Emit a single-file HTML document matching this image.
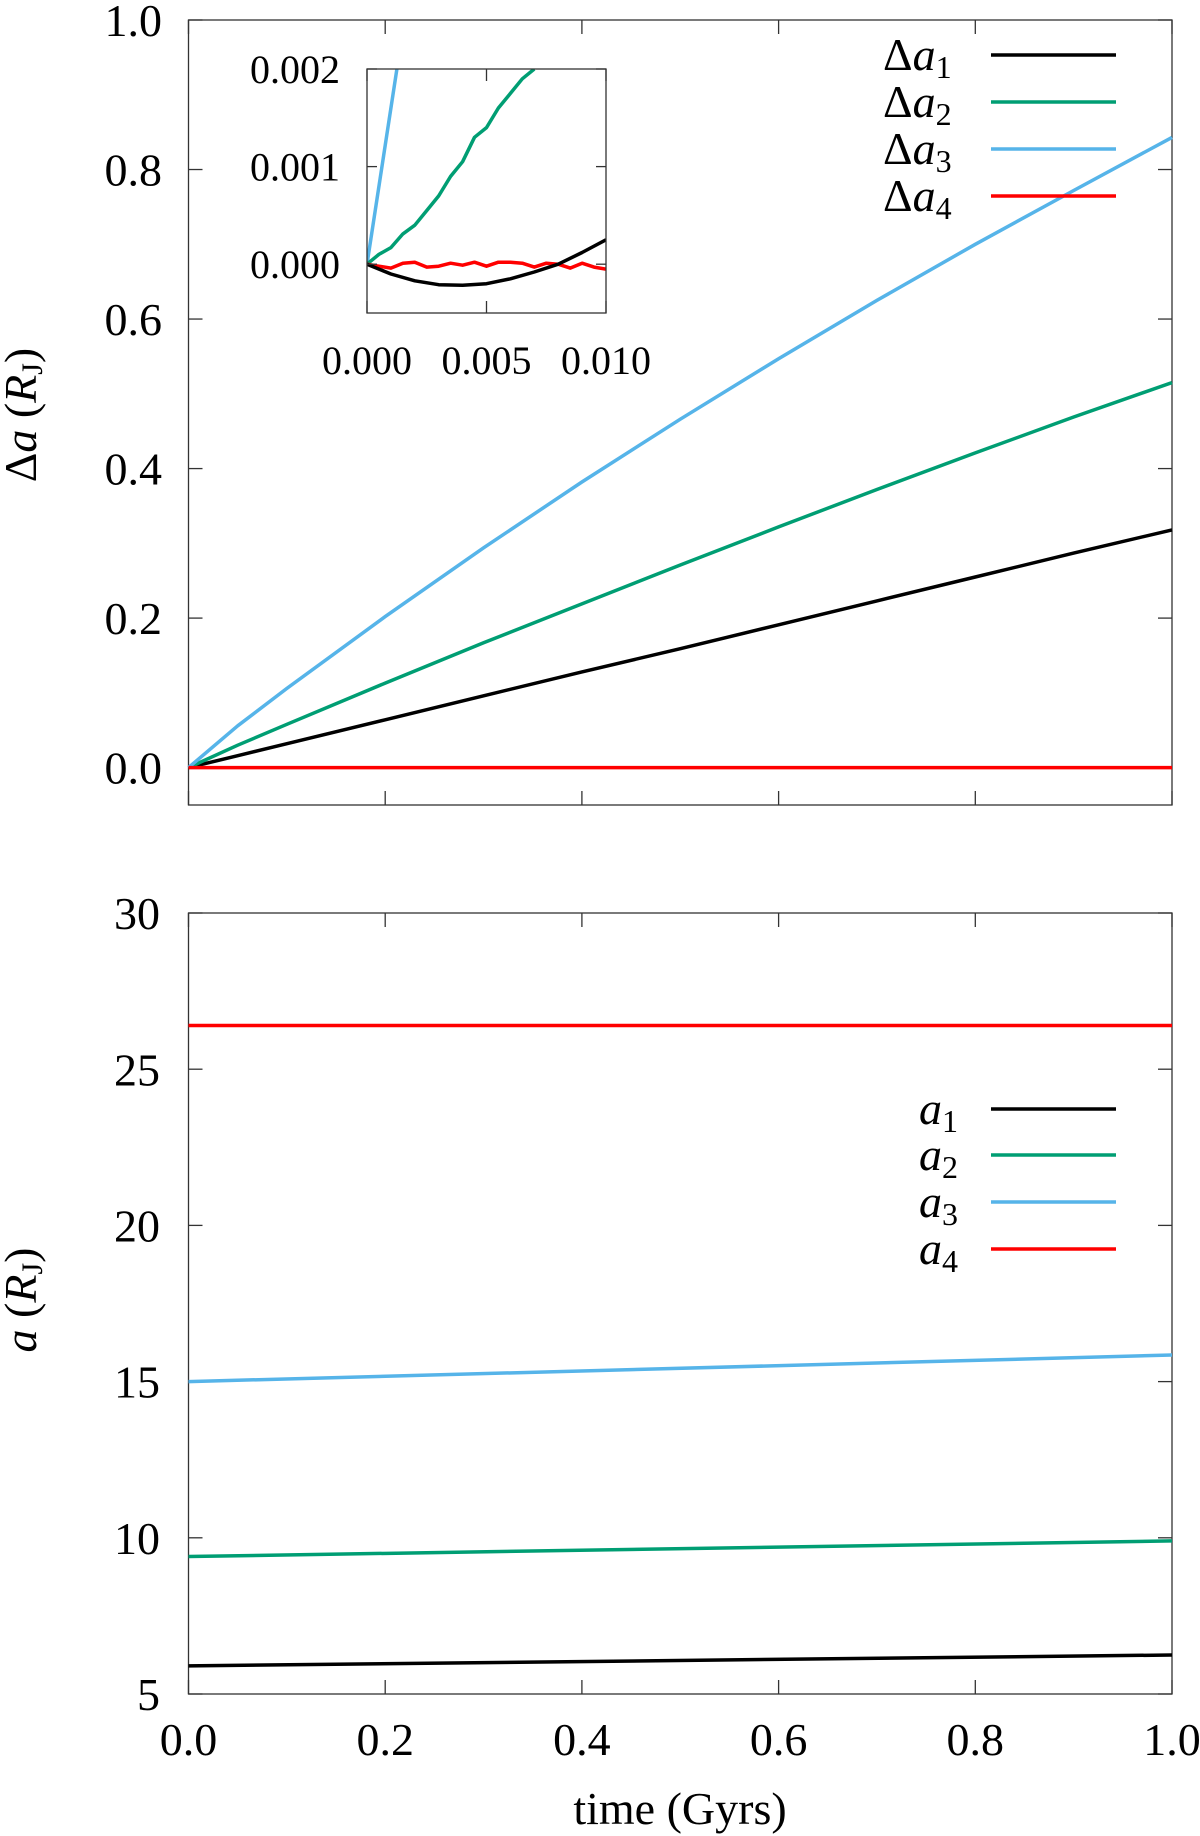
<!DOCTYPE html>
<html><head><meta charset="utf-8"><style>
html,body{margin:0;padding:0;background:#fff}
svg{display:block}
text{font-family:"Liberation Serif",serif;fill:#000}
</style></head><body>
<svg id="chart" width="1200" height="1836" viewBox="0 0 1200 1836" xmlns="http://www.w3.org/2000/svg"></svg>
<script>
// ---- data ----
const topTimes = [0,0.05,0.1,0.2,0.3,0.4,0.5,0.6,0.7,0.8,0.9,1.0];
const da1 = [0,0.016,0.032,0.064,0.096,0.128,0.159,0.191,0.223,0.255,0.287,0.318];
const da2 = [0,0.03,0.058,0.113,0.167,0.219,0.271,0.322,0.372,0.421,0.469,0.515];
const da3 = [0,0.056,0.106,0.202,0.294,0.382,0.466,0.547,0.625,0.70,0.772,0.843];
const da4 = [0,0,0,0,0,0,0,0,0,0,0,0];
const topTicksY = [0.0,0.2,0.4,0.6,0.8,1.0];
const xTicks = [0.0,0.2,0.4,0.6,0.8,1.0];
const insetT1 = [0,0.001,0.002,0.003,0.004,0.005,0.006,0.007,0.008,0.009,0.01];
const insetDa1 = [0,-0.0001,-0.00017,-0.00021,-0.000215,-0.0002,-0.00015,-0.00008,0.0,0.00012,0.00025];
const insetT3 = [0,0.00125];
const insetDa3 = [0,0.002];
const insetT2 = [0,0.0005,0.001,0.0015,0.002,0.0025,0.003,0.0035,0.004,0.0045,0.005,0.0055,0.006,0.0065,0.007];
const insetDa2 = [0,0.0001,0.00017,0.00031,0.0004,0.00055,0.0007,0.0009,0.00105,0.0013,0.0014,0.0016,0.00175,0.0019,0.002];
const insetT4 = [0,0.0005,0.001,0.0015,0.002,0.0025,0.003,0.0035,0.004,0.0045,0.005,0.0055,0.006,0.0065,0.007,0.0075,0.008,0.0085,0.009,0.0095,0.01];
const insetDa4 = [0,-0.00002,-0.00004,0.00001,0.00002,-0.00003,-0.00002,0.00001,-0.00001,0.00002,-0.00002,0.00002,0.00002,0.00001,-0.00003,0.00001,0.0,-0.00004,0.00001,-0.00003,-0.00005];
const insetTicksY = [0.000,0.001,0.002];
const insetTicksX = [0.000,0.005,0.010];
const botTimes = [0,1.0];
const a1 = [5.9,6.25];
const a2 = [9.4,9.9];
const a3 = [15.0,15.85];
const a4 = [26.4,26.4];
const botTicksY = [5,10,15,20,25,30];
const colors = ['#000000','#009e73','#56b4e9','#ff0000'];

const NS='http://www.w3.org/2000/svg';
const svg=document.getElementById('chart');
function el(tag,attrs,parent){const e=document.createElementNS(NS,tag);for(const k in attrs)e.setAttribute(k,attrs[k]);(parent||svg).appendChild(e);return e;}
function lin(d0,d1,r0,r1){return v=>r0+(v-d0)/(d1-d0)*(r1-r0);}

const L=188.5,R=1172;
const xT=lin(0,1,L,R);
const yT=lin(-0.05,1.0,805,20);
const yB=lin(5,30,1694,913);
const LW=3.5;

function frame(name,x0,y0,x1,y1){
  const r=el('rect',{x:x0,y:y0,width:x1-x0,height:y1-y0,fill:'none',stroke:'#333','stroke-width':1.3});
  
  
}
function series(name,xs,ys,xf,yf,color,w){
  const p=el('polyline',{points:xs.map((t,i)=>xf(t).toFixed(1)+','+yf(ys[i]).toFixed(1)).join(' '),fill:'none',stroke:color,'stroke-width':w,'stroke-linejoin':'round'});
  
  
}
function yticks(name,ticks,yf,x0,x1,fmt,size,len,lx){
  ticks.forEach(v=>{
    const y=yf(v);
    el('line',{x1:x0,y1:y,x2:x0+len,y2:y,stroke:'#333','stroke-width':1.3});
    el('line',{x1:x1,y1:y,x2:x1-len,y2:y,stroke:'#333','stroke-width':1.3});
    const t=el('text',{x:lx,y:y+size*0.35,'text-anchor':'end','font-size':size});
    t.textContent=fmt(v);
    
    
  });
}
function xticks(name,ticks,xf,y0,y1,len,labelY,fmt,size){
  ticks.forEach(v=>{
    const x=xf(v);
    el('line',{x1:x,y1:y1,x2:x,y2:y1-len,stroke:'#333','stroke-width':1.3});
    el('line',{x1:x,y1:y0,x2:x,y2:y0+len,stroke:'#333','stroke-width':1.3});
    if(labelY!==null){
      const t=el('text',{x:x,y:labelY,'text-anchor':'middle','font-size':size});
      t.textContent=fmt(v);
      
      
    }
  });
}

// Top plot
frame('top-plot-frame',L,20,R,805);
yticks('top-y-tick-label',topTicksY,yT,L,R,v=>v.toFixed(1),46,14,162);
xticks('top-x-tick',xTicks,xT,20,805,14,null,null,0);
series('delta-a1-line',topTimes,da1,xT,yT,colors[0],LW);
series('delta-a2-line',topTimes,da2,xT,yT,colors[1],LW);
series('delta-a3-line',topTimes,da3,xT,yT,colors[2],LW);
series('delta-a4-line',topTimes,da4,xT,yT,colors[3],LW);

// Inset
const IL=367,IR=606,IT=69,IB=313;
const xI=lin(0,0.01,IL,IR);
const yI=lin(-0.0005,0.002,IB,IT);
el('rect',{x:IL,y:IT,width:IR-IL,height:IB-IT,fill:'#fff',stroke:'none'});
const cp=el('clipPath',{id:'insetclip'});
el('rect',{x:IL,y:IT,width:IR-IL,height:IB-IT},cp);
const g=el('g',{'clip-path':'url(#insetclip)'});


function iseries(name,xs,ys,color){
  const p=el('polyline',{points:xs.map((t,i)=>xI(t).toFixed(1)+','+yI(ys[i]).toFixed(1)).join(' '),fill:'none',stroke:color,'stroke-width':LW,'stroke-linejoin':'round'},g);
  
  
}
iseries('inset-delta-a3-line',insetT3,insetDa3,colors[2]);
iseries('inset-delta-a2-line',insetT2,insetDa2,colors[1]);
iseries('inset-delta-a4-line',insetT4,insetDa4,colors[3]);
iseries('inset-delta-a1-line',insetT1,insetDa1,colors[0]);
frame('inset-frame',IL,IT,IR,IB);
yticks('inset-y-tick-label',insetTicksY,yI,IL,IR,v=>v.toFixed(3),40,10,340);
xticks('inset-x-tick-label',insetTicksX,xI,IT,IB,12,374,v=>v.toFixed(3),40);

// Top legend
const legTop=[['Δ','1',55],['Δ','2',102],['Δ','3',149],['Δ','4',196]];
legTop.forEach((d,i)=>{
  const t=el('text',{x:883,y:d[2]+15,'font-size':46});
  t.innerHTML='Δ<tspan font-style="italic">a</tspan><tspan font-size="32" dy="8">'+d[1]+'</tspan>';
  
  
  const l=el('line',{x1:991,y1:d[2],x2:1116,y2:d[2],stroke:colors[i],'stroke-width':LW});
  
  
});

const ty=el('text',{transform:'translate(36,415) rotate(-90)','text-anchor':'middle','font-size':46});
ty.innerHTML='Δ<tspan font-style="italic">a</tspan> (<tspan font-style="italic">R</tspan><tspan font-size="30" dy="6">J</tspan><tspan dy="-6">)</tspan>';



// Bottom plot
frame('bottom-plot-frame',L,913,R,1694);
yticks('bottom-y-tick-label',botTicksY,yB,L,R,v=>String(v),46,14,160);
xticks('x-tick-label',xTicks,xT,913,1694,14,1755,v=>v.toFixed(1),46);
series('a4-line',botTimes,a4,xT,yB,colors[3],LW);
series('a3-line',botTimes,a3,xT,yB,colors[2],LW);
series('a2-line',botTimes,a2,xT,yB,colors[1],LW);
series('a1-line',botTimes,a1,xT,yB,colors[0],LW);

const legBot=[['1',1109],['2',1155],['3',1202],['4',1249]];
legBot.forEach((d,i)=>{
  const t=el('text',{x:919,y:d[1]+15,'font-size':46});
  t.innerHTML='<tspan font-style="italic">a</tspan><tspan font-size="32" dy="8">'+d[0]+'</tspan>';
  
  
  const l=el('line',{x1:991,y1:d[1],x2:1116,y2:d[1],stroke:colors[i],'stroke-width':LW});
  
  
});

const by=el('text',{transform:'translate(36,1300) rotate(-90)','text-anchor':'middle','font-size':46});
by.innerHTML='<tspan font-style="italic">a</tspan> (<tspan font-style="italic">R</tspan><tspan font-size="30" dy="6">J</tspan><tspan dy="-6">)</tspan>';



const xt=el('text',{x:680,y:1824,'text-anchor':'middle','font-size':46});
xt.textContent='time (Gyrs)';


</script>
</body></html>
